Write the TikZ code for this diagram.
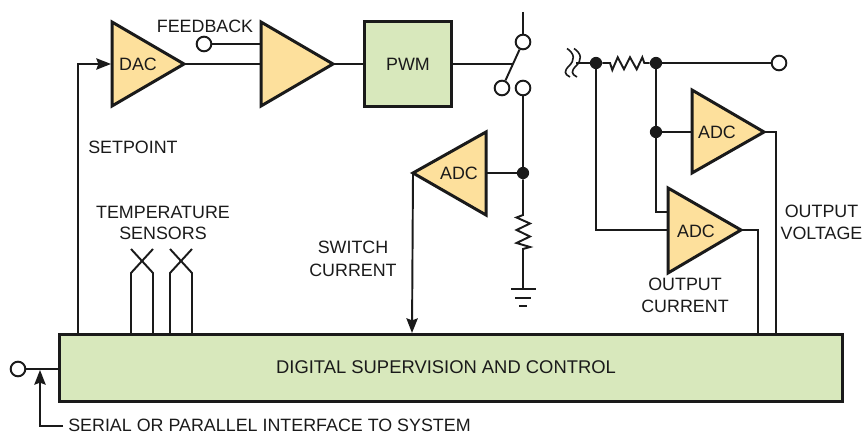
\documentclass[tikz,border=0pt]{standalone}
\usepackage{fontspec}
\setmainfont{Liberation Sans}
\usetikzlibrary{arrows.meta}
\definecolor{amp}{HTML}{FDE09C}
\definecolor{blk}{HTML}{D8E8BC}
\definecolor{ink}{HTML}{1A1A1A}
\tikzset{
  wire/.style={draw=ink,line width=1.45pt,line join=miter},
  thickbox/.style={draw=ink,line width=2.25pt,line join=miter},
  ampfill/.style={thickbox,fill=amp},
  lab/.style={text=ink,font=\fontsize{13.4pt}{16pt}\selectfont,inner sep=0pt,align=center},
  biglab/.style={text=ink,font=\fontsize{13.8pt}{16pt}\selectfont,inner sep=0pt,align=center},
  term/.style={circle,draw=ink,line width=1.45pt,fill=white,minimum size=11pt,inner sep=0pt},
  dot/.style={circle,fill=ink,minimum size=9.2pt,inner sep=0pt},
  tip/.style={-{Stealth[length=11pt,width=8.5pt,inset=1.5pt]}}
}
\begin{document}
\begin{tikzpicture}[x=0.75pt,y=-0.75pt]
\useasboundingbox (0,0) rectangle (862,434);
% points
\coordinate (dacin) at (111,64); \coordinate (dacout) at (184,64);
\coordinate (ampin) at (261,64); \coordinate (ampfb) at (261,44); \coordinate (ampout) at (333,64);
\coordinate (swc) at (512,64); \coordinate (swtop) at (523,12);
\coordinate (adcsL) at (413,173); \coordinate (adcsR) at (486,173);
\coordinate (gnd) at (523,289);
\coordinate (adcvin) at (692,132); \coordinate (adcvout) at (764,132);
\coordinate (adciinA) at (668,212); \coordinate (adciinB) at (668,230); \coordinate (adciout) at (741,230);
\coordinate (brk) at (576,63);
% blocks
\node[thickbox,fill=blk,minimum width=87.5*0.75pt,minimum height=85*0.75pt,inner sep=0pt,lab] (pwm) at (408,64) {PWM};
\node[thickbox,fill=blk,minimum width=783*0.75pt,minimum height=67*0.75pt,inner sep=0pt,lab] (ctrl) at (450.5,367.5) {};
\node[biglab] (ctrltext) at (446,367) {DIGITAL SUPERVISION AND CONTROL};
% terminals and dots
\node[term] (fb) at (204,44) {};
\node[term] (t1) at (523,42) {};
\node[term] (t2) at (502,88) {};
\node[term] (t3) at (523,88) {};
\node[term] (vout) at (779,63) {};
\node[term] (ser) at (18,369) {};
\node[dot] (d1) at (523,173) {};
\node[dot] (d2) at (596,63) {};
\node[dot] (d3) at (656,63) {};
\node[dot] (d4) at (656,132) {};
% wires
\draw[wire] (fb) -- (ampfb);
\draw[wire] (dacout) -- (ampin);
\draw[wire] (ampout) -- (pwm.west);
\draw[wire] (pwm.east) -- (swc);
\draw[wire] (swtop) -- (t1);
\draw[wire] (t2) -- (t1);
\draw[wire] (t3) -- (d1);
\draw[wire] (adcsR) -- (d1);
\draw[wire] (d1) -- (523,215) -- (516.5,217.5) -- (530,223.5) -- (516.5,230) -- (530,236.5) -- (516.5,243) -- (530,247) -- (523,249) -- (gnd);
\draw[wire] (511,289) -- (536,289);
\draw[wire] (515,298) -- (531,298);
\draw[wire] (519,306) -- (527,306);
\draw[wire,tip] (adcsL) -- (412,333);
\draw[wire] (brk) -- (d2);
\draw[wire] (d2) -- (610,63) -- (612.3,70) -- (617.7,57.3) -- (624,69.3) -- (630,57.3) -- (636.7,69.3) -- (642.3,57.3) -- (644.3,63) -- (d3);
\draw[wire] (d3) -- (vout);
\draw[wire] (d3) -- (d4);
\draw[wire] (d4) -- (adcvin);
\draw[wire] (d4) |- (adciinA);
\draw[wire] (d2) |- (adciinB);
\draw[wire] (adcvout) -| (776,334);
\draw[wire] (adciout) -| (758,334);
\draw[wire,tip] (78,334) |- (dacin);
\draw[wire] (ser) -- (59,369);
\draw[wire,tip] (63,425.7) -| (40,370);
% break marks
\draw[wire,line width=1.2pt] (567,48.5) .. controls (575,54) and (575,60) .. (569,66) .. controls (564,71) and (564,74) .. (570,77);
\draw[wire,line width=1.2pt] (574,48.5) .. controls (582,54) and (582,60) .. (576,66) .. controls (571,71) and (571,74) .. (577,77);
% temperature sensors
\draw[wire] (131,334) -- (131,273) -- (153,249);
\draw[wire] (153,334) -- (153,273) -- (131,249);
\draw[wire] (170,334) -- (170,273) -- (192,249);
\draw[wire] (192,334) -- (192,273) -- (170,249);
% amplifiers
\draw[ampfill] (112,22) -- (184,64) -- (112,106) -- cycle;
\draw[ampfill] (261,22) -- (333,64) -- (261,106) -- cycle;
\draw[ampfill] (486,132) -- (413,173) -- (486,215) -- cycle;
\draw[ampfill] (692,90) -- (764,132) -- (692,173) -- cycle;
\draw[ampfill] (668,188) -- (741,230) -- (668,273) -- cycle;
% labels
\node[lab] (ldac) at (138,64) {DAC};
\node[lab] (ladcs) at (459,173) {ADC};
\node[lab] (ladcv) at (717,132) {ADC};
\node[lab] (ladci) at (696,231) {ADC};
\node[lab] (lfb) at (205,26) {FEEDBACK};
\node[lab,anchor=west] (lsp) at (88,147) {SETPOINT};
\node[lab] (lts1) at (163,212) {TEMPERATURE};
\node[lab] (lts2) at (163,233) {SENSORS};
\node[lab] (lsc1) at (353,247) {SWITCH};
\node[lab] (lsc2) at (353,270) {CURRENT};
\node[lab] (loc1) at (685,284) {OUTPUT};
\node[lab] (loc2) at (685,306) {CURRENT};
\node[lab] (lov1) at (821.5,211) {OUTPUT};
\node[lab] (lov2) at (821.5,233) {VOLTAGE};
\node[lab,anchor=west] (lser) at (68,425.5) {SERIAL OR PARALLEL INTERFACE TO SYSTEM};
\end{tikzpicture}
\end{document}
